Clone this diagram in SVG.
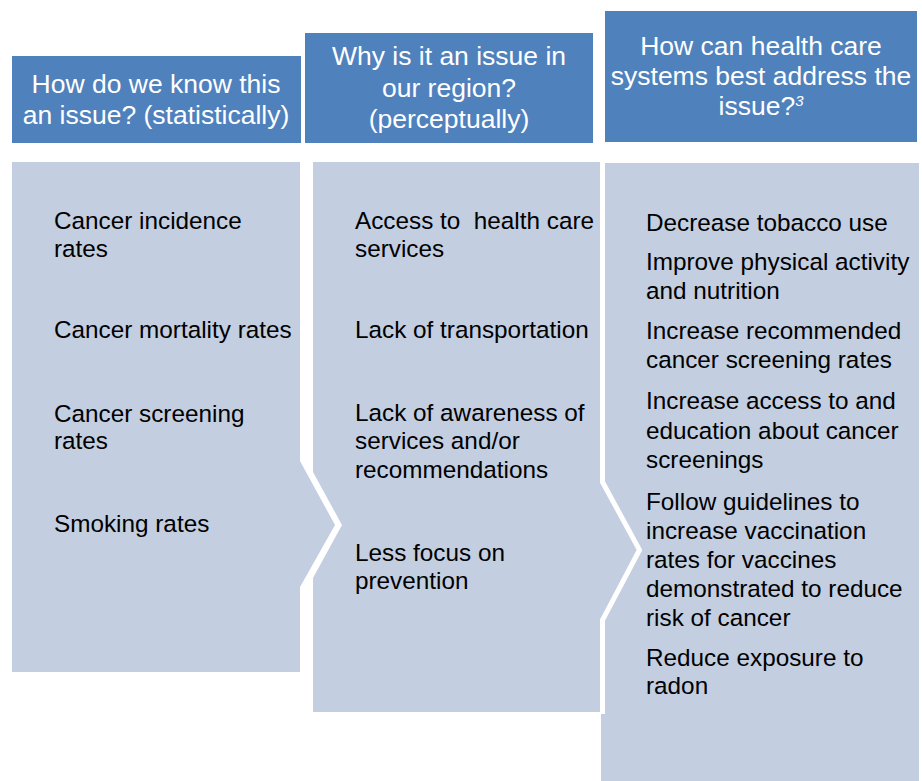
<svg xmlns="http://www.w3.org/2000/svg" width="922" height="781" viewBox="0 0 922 781">
<style>
.hdr{fill:#4F81BD}
.body{fill:#C3CEE1}
.ht{font-family:"Liberation Sans",Arial,sans-serif;font-size:26.5px;fill:#FFFFFF;text-anchor:middle}
.bt{font-family:"Liberation Sans",Arial,sans-serif;font-size:24.3px;fill:#000000}
</style>
<rect width="922" height="781" fill="#FFFFFF"/>
<g id="col3-body">
<rect class="body" x="601" y="163" width="318" height="620"/>
</g>
<g id="col1-body">
<polygon class="body" points="12,162 300,162 300,461 335,525 300,587 300,672 12,672"/>
</g>
<g id="col2-body">
<polygon class="body" points="313,162 600,162 600,482 637,550 600,620 600,712 313,712 313,578 342,525 313,472"/>
<polyline points="602.5,160 602.5,482 639.5,550 602.5,620 602.5,714" fill="none" stroke="#FFFFFF" stroke-width="5"/>
</g>
<g id="col1-header">
<rect class="hdr" x="12" y="56" width="289" height="87"/>
<text class="ht" x="156" y="93">How do we know this</text>
<text class="ht" x="156" y="124">an issue? (statistically)</text>
</g>
<g id="col2-header">
<rect class="hdr" x="305" y="33" width="288" height="110"/>
<text class="ht" x="449" y="65">Why is it an issue in</text>
<text class="ht" x="449" y="96.5">our region?</text>
<text class="ht" x="449" y="127.5">(perceptually)</text>
</g>
<g id="col3-header">
<rect class="hdr" x="605" y="11" width="312" height="131"/>
<text class="ht" x="761" y="55">How can health care</text>
<text class="ht" x="761" y="85">systems best address the</text>
<text class="ht" x="761" y="115">issue?<tspan font-size="15" font-style="italic" dy="-9">3</tspan></text>
</g>
<g id="col1-items">
<text class="bt" x="54" y="229">Cancer incidence</text>
<text class="bt" x="54" y="257">rates</text>
<text class="bt" x="54" y="338">Cancer mortality rates</text>
<text class="bt" x="54" y="422">Cancer screening</text>
<text class="bt" x="54" y="449">rates</text>
<text class="bt" x="54" y="532">Smoking rates</text>
</g>
<g id="col2-items">
<text class="bt" x="355" y="229" xml:space="preserve">Access to  health care</text>
<text class="bt" x="355" y="257">services</text>
<text class="bt" x="355" y="338">Lack of transportation</text>
<text class="bt" x="355" y="421">Lack of awareness of</text>
<text class="bt" x="355" y="449">services and/or</text>
<text class="bt" x="355" y="478">recommendations</text>
<text class="bt" x="355" y="561">Less focus on</text>
<text class="bt" x="355" y="589">prevention</text>
</g>
<g id="col3-items">
<text class="bt" x="646" y="231">Decrease tobacco use</text>
<text class="bt" x="646" y="270">Improve physical activity</text>
<text class="bt" x="646" y="299">and nutrition</text>
<text class="bt" x="646" y="339">Increase recommended</text>
<text class="bt" x="646" y="368">cancer screening rates</text>
<text class="bt" x="646" y="409">Increase access to and</text>
<text class="bt" x="646" y="439">education about cancer</text>
<text class="bt" x="646" y="468">screenings</text>
<text class="bt" x="646" y="510">Follow guidelines to</text>
<text class="bt" x="646" y="539">increase vaccination</text>
<text class="bt" x="646" y="568">rates for vaccines</text>
<text class="bt" x="646" y="597">demonstrated to reduce</text>
<text class="bt" x="646" y="626">risk of cancer</text>
<text class="bt" x="646" y="666">Reduce exposure to</text>
<text class="bt" x="646" y="694">radon</text>
</g>
<g id="connectors"></g>
</svg>
